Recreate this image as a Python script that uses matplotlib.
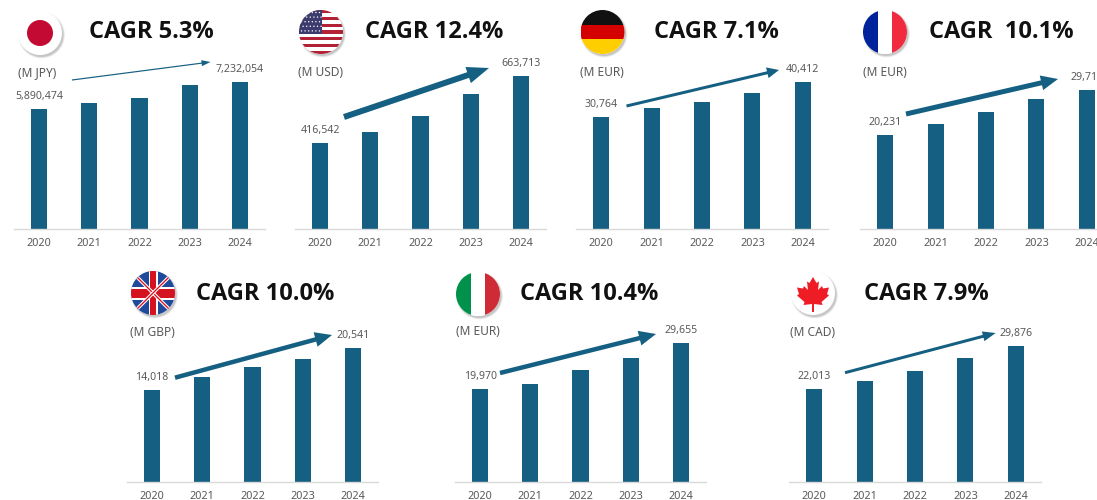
import matplotlib
matplotlib.use("Agg")
import matplotlib.pyplot as plt
from matplotlib.patches import Circle, FancyArrow, Polygon, Rectangle

plt.rcParams['font.family'] = ['Noto Sans', 'DejaVu Sans']

W, H = 1097, 500
BLUE = "#156082"
GREY = "#595959"

years = ["2020", "2021", "2022", "2023", "2024"]
japan = [5890474, 6200000, 6420000, 7070000, 7232054]
usa = [416542, 458000, 516000, 596000, 663713]
germany = [30764, 33250, 34900, 37380, 40412]
france = [20231, 22560, 25130, 27850, 29711]
uk = [14018, 15990, 17630, 18860, 20541]
italy = [19970, 21000, 23870, 26440, 29655]
canada = [22013, 23420, 25250, 27740, 29876]

titles = ["CAGR 5.3%", "CAGR 12.4%", "CAGR 7.1%", "CAGR  10.1%", "CAGR 10.0%", "CAGR 10.4%", "CAGR 7.9%"]
units = ["(M JPY)", "(M USD)", "(M EUR)", "(M EUR)", "(M GBP)", "(M EUR)", "(M CAD)"]
series = [japan, usa, germany, france, uk, italy, canada]

# Layout in pixels: axis left, axis right, baseline y, y-axis limits
AX_H = 170
axis_left = [14, 295, 576, 860, 127, 455, 789]
axis_right = [265, 546, 828, 1112, 378, 706, 1041]
baselines = [229, 229, 229, 229, 481.7, 481.7, 481.7]
y_limits = [(0, 8346000), (100700, 725100), (0, 46835), (0, 36414), (0, 26061), (0, 36431), (5060, 36153)]

flag_xy = [(40, 33), (321, 32), (602.5, 32), (885, 32), (153, 293), (478, 294), (813, 293)]
title_x = [89, 365, 654, 929, 196, 520, 864]
title_y = [32.5, 32.5, 32.5, 32.5, 294, 294, 294]
unit_xy = [(37.5, 72.7), (320.7, 72.7), (602, 72.7), (885, 72.7), (152.7, 332), (478, 331.7), (813, 332)]

# tail x, tail y, head x, head y, shaft width, head width, head length
arrows = [
    (72, 80, 210.5, 62, 1.2, 6, 9),
    (344, 117, 489, 68, 6, 17, 22),
    (626.5, 106, 779, 70, 3, 11, 12),
    (906, 114, 1058, 79, 5, 15, 17),
    (175, 377.7, 332, 335, 4.5, 15, 17),
    (500, 373, 656, 334, 4.5, 15, 17),
    (845, 372.7, 995.7, 333, 3, 10, 13),
]

fig = plt.figure(figsize=(W / 100, H / 100), dpi=100, facecolor="white")

# Bar panels
for i, values in enumerate(series):
    left, right = axis_left[i], axis_right[i]
    ax = fig.add_axes([left / W, 1 - baselines[i] / H, (right - left) / W, AX_H / H])
    ax.patch.set_alpha(0)
    bars = ax.bar(range(5), values, width=0.32, color=BLUE)
    ax.set_xlim(-0.5, 4.5)
    ax.set_ylim(*y_limits[i])
    ax.set_xticks(range(5), years)
    ax.set_yticks([])
    ax.tick_params(axis="x", length=0, pad=6.5, labelsize=7.8, labelcolor=GREY)
    for side in ["top", "left", "right"]:
        ax.spines[side].set_visible(False)
    ax.spines["bottom"].set_color("#d9d9d9")
    ax.spines["bottom"].set_linewidth(1.0)
    # only first and last year are labelled
    for j in [0, 4]:
        ax.annotate(f"{values[j]:,}", (j, values[j]), xytext=(0, 9), textcoords="offset points",
                    ha="center", va="center", fontsize=7.6, color=GREY, annotation_clip=False)

# Overlay in pixel coordinates for flags, titles, arrows
ov = fig.add_axes([0, 0, 1, 1], zorder=5)
ov.set_xlim(0, W)
ov.set_ylim(H, 0)
ov.axis("off")
ov.patch.set_alpha(0)


def flag_disc(x, y, r=22):
    # soft shadow, then the clip circle
    for grow, alpha in [(1.5, 0.06), (0.8, 0.10), (0, 0.16)]:
        ov.add_patch(Circle((x + 1.5, y + 2), r + grow, fc="#404040", ec="none", alpha=alpha))
    disc = Circle((x, y), r, fc="white", ec="none")
    ov.add_patch(disc)
    return disc


def clipped(patch, disc):
    ov.add_patch(patch)
    patch.set_clip_path(disc)


def bands_v(x, y, colors, r=22):
    disc = flag_disc(x, y, r)
    w = 2 * r / len(colors)
    for k, c in enumerate(colors):
        clipped(Rectangle((x - r + k * w, y - r), w, 2 * r, fc=c, ec="none"), disc)


def bands_h(x, y, colors, r=22):
    disc = flag_disc(x, y, r)
    h = 2 * r / len(colors)
    for k, c in enumerate(colors):
        clipped(Rectangle((x - r, y - r + k * h), 2 * r, h, fc=c, ec="none"), disc)


def draw_japan(x, y):
    flag_disc(x, y)
    ov.add_patch(Circle((x, y), 13, fc="#c20a32", ec="none"))


def draw_usa(x, y, r=22):
    disc = flag_disc(x, y, r)
    h = 2 * r / 13
    for k in range(13):
        c = "#b22234" if k % 2 == 0 else "white"
        clipped(Rectangle((x - r, y - r + k * h), 2 * r, h, fc=c, ec="none"), disc)
    clipped(Rectangle((x - r, y - r), r * 1.05, 7 * h, fc="#3c3b6e", ec="none"), disc)
    for row in range(5):
        for col in range(6):
            sx = x - r + 2.5 + col * 3.6 + (row % 2) * 1.6
            sy = y - r + 2.5 + row * 4.6
            clipped(Circle((sx, sy), 0.7, fc="white", ec="none"), disc)


def draw_uk(x, y, r=22):
    disc = flag_disc(x, y, r)
    clipped(Rectangle((x - r, y - r), 2 * r, 2 * r, fc="#1f4a9c", ec="none"), disc)
    for sign in [1, -1]:
        for lw, c in [(3.5, "white"), (1.3, "#d5121f")]:
            line, = ov.plot([x - r, x + r], [y - sign * r, y + sign * r], color=c, lw=lw * 0.72,
                            solid_capstyle="butt")
            line.set_clip_path(disc)
    clipped(Rectangle((x - r, y - 6.5), 2 * r, 13, fc="white", ec="none"), disc)
    clipped(Rectangle((x - 4.5, y - r), 9, 2 * r, fc="white", ec="none"), disc)
    clipped(Rectangle((x - r, y - 4.5), 2 * r, 9, fc="#d5121f", ec="none"), disc)
    clipped(Rectangle((x - 3, y - r), 6, 2 * r, fc="#d5121f", ec="none"), disc)


def draw_canada(x, y):
    flag_disc(x, y)
    half = [(0, -16), (3.5, -10), (6, -11.5), (5, -3), (9, -7), (10, -4.5), (16, -5.5), (14, 1),
            (16, 2.5), (8.5, 9), (9.5, 12), (1, 11), (1, 19)]
    pts = [(x + a, y + b) for a, b in half] + [(x - a, y + b) for a, b in reversed(half)]
    ov.add_patch(Polygon(pts, closed=True, fc="#ee1c25", ec="none"))


draw_japan(*flag_xy[0])
draw_usa(*flag_xy[1])
bands_h(*flag_xy[2], ["#111111", "#d40000", "#ffce00"])
bands_v(*flag_xy[3], ["#00239c", "white", "#ef2b3d"])
draw_uk(*flag_xy[4])
bands_v(*flag_xy[5], ["#00924a", "white", "#cf2b37"])
draw_canada(*flag_xy[6])

for i in range(7):
    ov.text(title_x[i], title_y[i], titles[i], ha="left", va="center", fontsize=17,
            fontweight="bold", family=["Open Sans", "DejaVu Sans"], color="#111111")
    ov.text(unit_xy[i][0], unit_xy[i][1], units[i], ha="center", va="center", fontsize=8.6, color=GREY)
    x0, y0, x1, y1, w, hw, hl = arrows[i]
    ov.add_patch(FancyArrow(x0, y0, x1 - x0, y1 - y0, width=w, head_width=hw, head_length=hl,
                            length_includes_head=True, fc=BLUE, ec="none"))

plt.savefig("out.png", dpi=100)
plt.close()
